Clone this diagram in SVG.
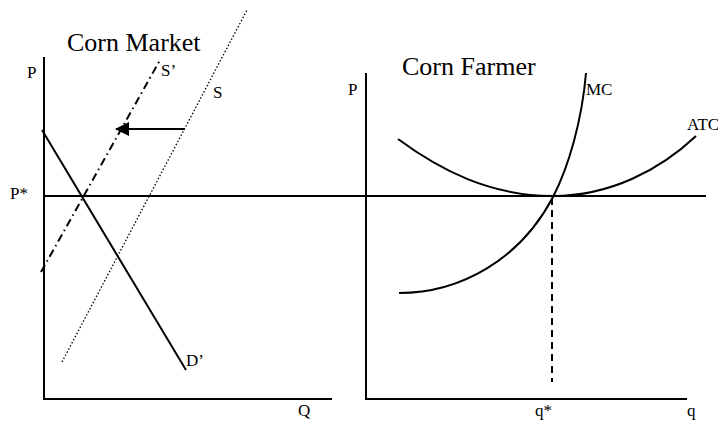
<svg xmlns="http://www.w3.org/2000/svg" width="718" height="421" viewBox="0 0 718 421">
<style>
  .ax{stroke:#000;stroke-width:2;fill:none}
  .ln{stroke:#000;stroke-width:2;fill:none}
  .t{font-family:"Liberation Serif","Times New Roman",serif;fill:#000}
  .s{font-size:17px}
  .big{font-size:26px}
</style>
<defs>
  <marker id="ah" markerWidth="14" markerHeight="14" refX="13" refY="7" orient="auto" markerUnits="userSpaceOnUse">
    <path d="M0,0 L14,7 L0,14 Z" fill="#000"/>
  </marker>
</defs>
<g id="corn-market">
  <text class="t big" x="67" y="51">Corn Market</text>
  <text class="t s" x="27" y="78">P</text>
  <text class="t s" x="10" y="199">P*</text>
  <text class="t s" x="298" y="416">Q</text>
  <path class="ax" d="M44,57 V399 H332"/>
</g>
<g id="corn-farmer">
  <text class="t big" x="402" y="75">Corn Farmer</text>
  <text class="t s" x="348" y="95">P</text>
  <text class="t s" x="535" y="416">q*</text>
  <text class="t s" x="687" y="416">q</text>
  <path class="ax" d="M366,73 V399 H687"/>
</g>
<g id="price-line">
  <line class="ln" x1="44" y1="196" x2="706" y2="196"/>
</g>
<g id="demand">
  <line class="ln" x1="42" y1="130" x2="186" y2="370"/>
  <text class="t s" x="186" y="366">D’</text>
</g>
<g id="supply">
  <line stroke="#000" stroke-width="1.3" stroke-dasharray="1.5,2" x1="62" y1="362" x2="247" y2="10"/>
  <text class="t s" x="213" y="98">S</text>
</g>
<g id="supply-shifted">
  <line stroke="#000" stroke-width="2" stroke-dasharray="8,4,1.5,4" x1="41" y1="272" x2="160" y2="60"/>
  <text class="t s" x="161" y="76">S’</text>
</g>
<g id="mc">
  <path class="ln" d="M399,293 C460,293 520,260 553,197 C569,166 582,120 586,73"/>
  <text class="t s" x="586" y="95">MC</text>
</g>
<g id="atc">
  <path class="ln" d="M398,139 C440,170 490,196 553,196 C610,196 660,170 696,136"/>
  <text class="t s" x="687" y="130">ATC</text>
</g>
<g id="connectors">
  <line class="ln" x1="185" y1="129" x2="116" y2="129" marker-end="url(#ah)"/>
  <line stroke="#000" stroke-width="2" stroke-dasharray="7,5" x1="552" y1="198" x2="552" y2="382"/>
</g>
</svg>
